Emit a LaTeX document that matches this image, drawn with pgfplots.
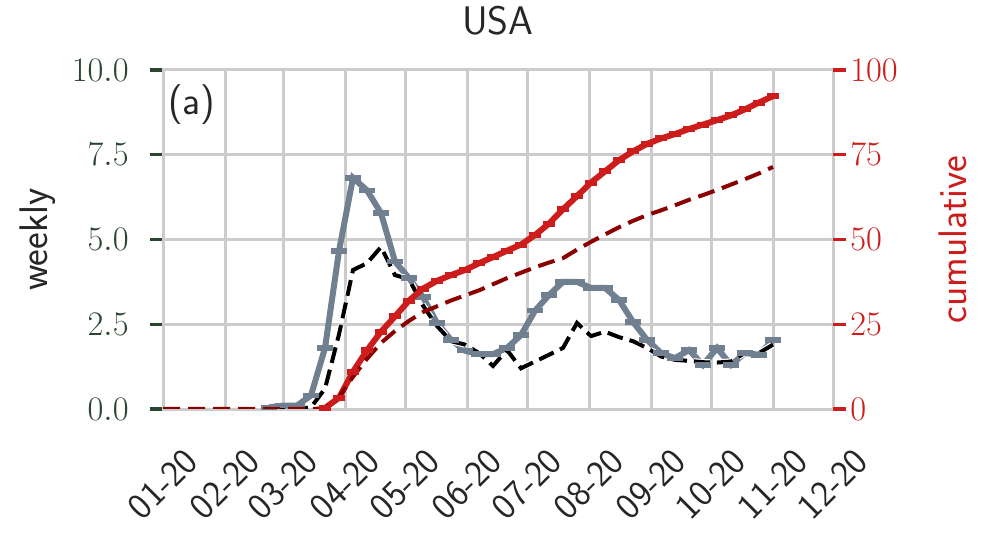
\documentclass[border=0pt]{standalone}
\usepackage{fontspec}
\usepackage{pgfplots}
\usepackage{pgfplotstable}
\pgfplotsset{compat=1.18}
\definecolor{gridgray}{HTML}{CCCCCC}
\definecolor{tickgreen}{HTML}{2A4530}
\definecolor{cumred}{RGB}{205,28,28}
\definecolor{dred}{RGB}{139,0,0}
\definecolor{slategray}{RGB}{112,128,144}
\definecolor{labelgray}{HTML}{262626}

\pgfplotstableread{
day val
53 0.05
60 0.1
67 0.1
74 0.4
81 1.8
88 4.66
95 6.82
102 6.45
109 5.78
116 4.35
123 3.86
130 3.3
137 2.54
144 2.04
151 1.72
158 1.62
165 1.62
172 1.8
179 2.18
186 2.9
193 3.36
200 3.75
207 3.75
214 3.57
221 3.57
228 3.22
235 2.57
242 2.04
249 1.65
256 1.5
263 1.74
270 1.3
277 1.8
284 1.3
291 1.65
298 1.6
305 2.04
}\graywk

\pgfplotstableread{
day val
53 0
67 0
74 0.05
81 0.6
88 2.2
95 4.1
102 4.3
109 4.78
116 3.95
123 3.83
130 3.05
137 2.45
144 2.0
151 1.9
158 1.65
165 1.27
172 1.74
179 1.2
186 1.4
193 1.6
200 1.8
207 2.54
214 2.15
221 2.28
228 2.12
235 2.0
242 1.8
249 1.55
256 1.45
263 1.42
270 1.38
277 1.37
284 1.4
291 1.66
298 1.65
305 1.9
}\blackwk

\pgfplotstableread{
day val
81 0.3
88 3.3
95 11
102 17.3
109 22.8
116 27.3
123 32
130 35.5
137 37.8
144 39.5
151 41
158 43
165 44.8
172 46.7
179 48.5
186 51.3
193 54.7
200 58.9
207 62.8
214 66.8
221 70.1
228 73.4
235 76
242 78.2
249 79.8
256 81.1
263 82.6
270 83.9
277 85.2
284 86.6
291 88.4
298 90.4
305 92.3
}\redcum

\pgfplotstableread{
day val
0 0
74 0
81 0.2
88 3.5
95 9.5
102 14.8
109 19.5
116 23
123 26
130 28.6
137 30.3
144 32
151 33.5
158 35
165 36.8
172 38.6
179 40.2
186 41.8
193 43.2
200 44.5
207 47
214 49.3
221 51.5
228 53.6
235 55.5
242 57.2
249 58.6
256 60.1
263 61.7
270 63.1
277 64.6
284 66.2
291 67.8
298 69.5
305 71.4
}\darkcum

\begin{document}
\begin{tikzpicture}
\useasboundingbox (0,0) rectangle (492.5bp,268.5bp);
\begin{axis}[
  at={(81.5bp,64bp)}, anchor=south west,
  scale only axis, width=335bp, height=169.5bp,
  xmin=0, xmax=335, ymin=0, ymax=10,
  xtick={0,31,60,91,121,152,182,213,244,274,305,335},
  xticklabels={01-20,02-20,03-20,04-20,05-20,06-20,07-20,08-20,09-20,10-20,11-20,12-20},
  ytick={0,2.5,5,7.5,10},
  grid=major,
  major grid style={gridgray, line width=1.5bp},
  axis line style={gridgray, line width=1.5bp},
  xtick style={draw=none},
  ytick style={tickgreen, line width=1.6bp},
  tick align=outside, major tick length=6.5bp,
  yticklabel style={/pgf/number format/.cd, fixed, fixed zerofill, precision=1, /tikz/.cd,
    tickgreen, font=\fontsize{17}{20}\selectfont, anchor=east, inner sep=0pt, xshift=-10.5bp},
  xticklabel style={font=\sffamily\fontsize{18.5}{20}\selectfont, labelgray, anchor=center, inner sep=0pt, yshift=-31bp, rotate=45},
  title={USA},
  title style={font=\sffamily\fontsize{20}{24}\selectfont, labelgray, at={(axis description cs:0.5,1)}, anchor=base, yshift=12bp},
  ylabel={weekly},
  every axis y label/.style={at={(axis description cs:-0.1873,0.5)}, rotate=90, anchor=center, font=\sffamily\fontsize{20}{24}\selectfont, labelgray},
]
\addplot[slategray, line width=3bp, mark=-, mark size=4bp, mark options={solid, line width=2.8bp}] table[x=day, y=val] {\graywk};
\addplot[black, line width=2bp, dash pattern=on 8bp off 3.5bp,
  preaction={draw=white, line width=3.2bp, dash pattern=on 8bp off 3.5bp}] table[x=day, y=val] {\blackwk};
\node[anchor=north west, inner sep=0pt, font=\sffamily\fontsize{20}{24}\selectfont, labelgray] at ([xshift=2.5bp, yshift=-7bp]rel axis cs:0,1) {(a)};
\end{axis}
\begin{axis}[
  at={(81.5bp,64bp)}, anchor=south west,
  scale only axis, width=335bp, height=169.5bp,
  xmin=0, xmax=335, ymin=0, ymax=100,
  axis x line=none, axis y line*=right,
  axis line style={draw=none},
  ytick={0,25,50,75,100},
  ytick style={cumred, line width=1.6bp},
  tick align=outside, major tick length=6.5bp,
  yticklabel style={cumred, font=\fontsize{17}{20}\selectfont, anchor=west, inner sep=0pt, xshift=2bp},
  ylabel={cumulative},
  every axis y label/.style={at={(axis description cs:1.1791,0.5)}, rotate=90, anchor=center, font=\sffamily\fontsize{20}{24}\selectfont, cumred},
]
\addplot[cumred, line width=3bp, mark=-, mark size=3bp, mark options={solid, line width=3bp}] table[x=day, y=val] {\redcum};
\addplot[dred, line width=2bp, dash pattern=on 8.5bp off 4bp] table[x=day, y=val] {\darkcum};
\end{axis}
\end{tikzpicture}
\end{document}
